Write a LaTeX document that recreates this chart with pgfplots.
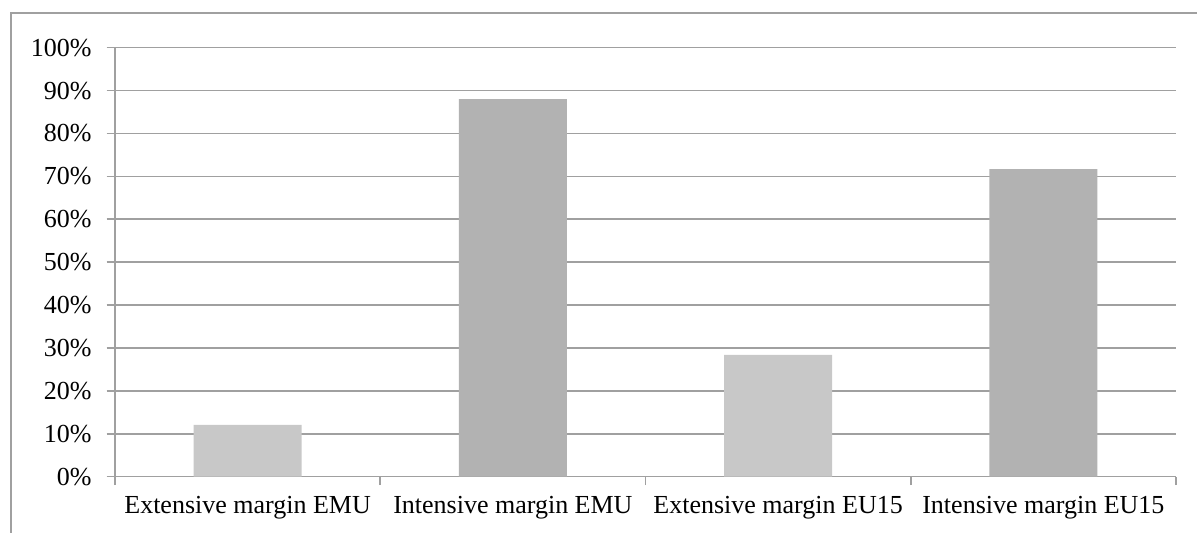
\documentclass[border=0pt]{standalone}
\usepackage{pgfplots}
\pgfplotsset{compat=1.18}
\usepackage{fontspec}
\setmainfont{Liberation Serif}
\definecolor{gridc}{RGB}{160,160,160}
\definecolor{barlight}{RGB}{200,200,200}
\definecolor{bardark}{RGB}{178,178,178}
\begin{document}
\begin{tikzpicture}
\useasboundingbox (-57.5pt,-28.15pt) rectangle (541pt,238.35pt);
\fill[white] (-57.5pt,-28.15pt) rectangle (541pt,238.35pt);
\draw[color=gridc, line width=1pt] (-52pt,-40pt) -- (-52pt,231.85pt) -- (560pt,231.85pt);
\begin{axis}[
  at={(0,0)}, anchor=south west,
  scale only axis,
  width=530.5pt, height=214.5pt,
  xmin=0, xmax=4, ymin=0, ymax=100,
  ybar, bar width=54pt, bar shift=0pt,
  axis x line*=bottom, axis y line*=left,
  axis line style={gridc, line width=0.8pt, -},
  ytick={0,10,...,100},
  yticklabel={\pgfmathprintnumber{\tick}\%},
  /pgf/number format/assume math mode=true,
  ymajorgrids, grid style={gridc, line width=0.8pt},
  every tick/.style={draw=gridc, line width=0.8pt},
  y tick label style={font=\fontsize{13}{15}\selectfont, xshift=-4pt},
  xtick={0,1,2,3,4},
  xticklabels={Extensive margin EMU, Intensive margin EMU, Extensive margin EU15, Intensive margin EU15},
  x tick label as interval,
  x tick label style={font=\fontsize{13}{15}\selectfont, yshift=-2pt},
  xtick align=outside, ytick align=outside,
  major tick length=4.2pt,
  clip=false,
]
\addplot[fill=barlight, draw=none] coordinates {(0.5,12.1) (2.5,28.4)};
\addplot[fill=bardark, draw=none] coordinates {(1.5,88.0) (3.5,71.7)};
\end{axis}
\end{tikzpicture}
\end{document}
